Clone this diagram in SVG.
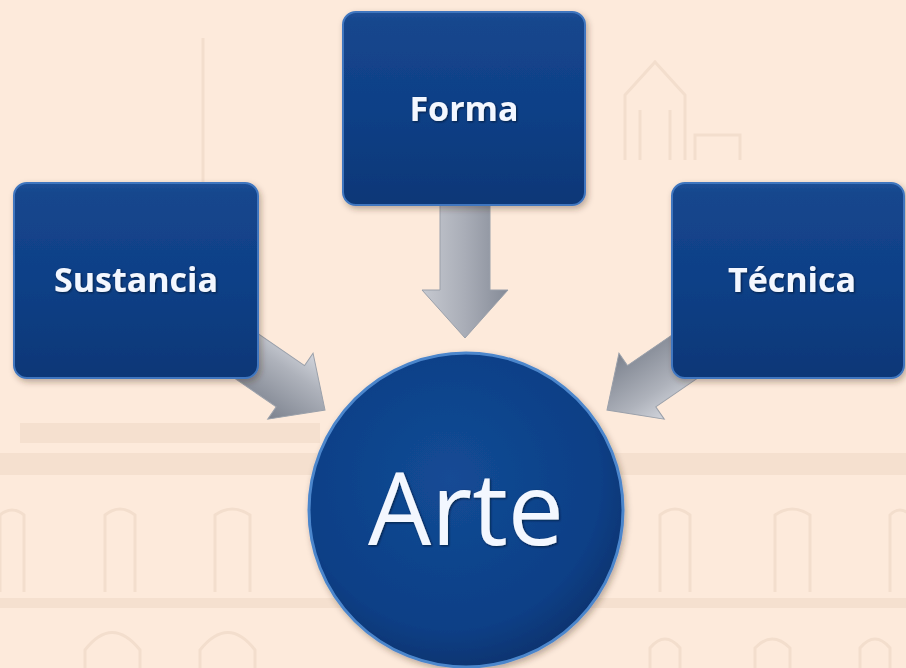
<svg xmlns="http://www.w3.org/2000/svg" width="906" height="668" viewBox="0 0 906 668">
<style>
.wm{fill:none;stroke:#f3decd;stroke-width:3}
.band{fill:#f5e0cf}
.box{fill:url(#boxg);stroke:#3f76bf;stroke-width:2;filter:url(#sh)}
.lbl{font-family:"Open Sans","Noto Sans","Liberation Sans",sans-serif;font-weight:bold;font-size:34px;fill:#f3f7ff;text-anchor:middle;filter:url(#ts)}
.arr{fill:url(#arrg);stroke:#9aa0aa;stroke-width:1}
</style>
<defs>
<linearGradient id="boxg" x1="0" y1="0" x2="0" y2="1">
<stop offset="0" stop-color="#1f5097"/>
<stop offset="0.05" stop-color="#15468d"/>
<stop offset="0.5" stop-color="#0f4087"/>
<stop offset="1" stop-color="#0b3777"/>
</linearGradient>
<linearGradient id="arrg" x1="0" y1="0" x2="0" y2="1">
<stop offset="0" stop-color="#d2d5dc"/>
<stop offset="0.35" stop-color="#aeb2bb"/>
<stop offset="1" stop-color="#7c828e"/>
</linearGradient>
<linearGradient id="arrv" x1="0" y1="0" x2="1" y2="0">
<stop offset="0" stop-color="#c6c9d0"/>
<stop offset="0.5" stop-color="#a9adb7"/>
<stop offset="1" stop-color="#858b97"/>
</linearGradient>
<radialGradient id="circg" cx="0.45" cy="0.4" r="0.6">
<stop offset="0" stop-color="#134b95"/>
<stop offset="0.8" stop-color="#0d3f86"/>
<stop offset="1" stop-color="#0a3572"/>
</radialGradient>
<filter id="sh" x="-10%" y="-10%" width="125%" height="125%">
<feDropShadow dx="2" dy="3" stdDeviation="3" flood-color="#3a2a20" flood-opacity="0.35"/>
</filter>
<filter id="ts" x="-10%" y="-20%" width="120%" height="150%">
<feDropShadow dx="1" dy="1" stdDeviation="1.2" flood-color="#000820" flood-opacity="0.7"/>
</filter>
</defs>
<rect width="906" height="668" fill="#fdeadb"/>
<g id="background">
<line class="wm" x1="203" y1="38" x2="203" y2="182"/>
<path class="wm" d="M625 160 L625 95 L655 62 L685 95 L685 160 M640 160 V110 M670 160 V110 M695 160 V135 H740 V160"/>
<rect class="band" x="20" y="423" width="300" height="20"/>
<rect class="band" x="0" y="453" width="906" height="22"/>
<rect class="band" x="0" y="598" width="906" height="10"/>
<path class="wm" d="M0 592 V515 Q12 505 24 515 V592"/>
<path class="wm" d="M105 592 V515 Q120 503 135 515 V592"/>
<path class="wm" d="M215 592 V515 Q232 503 250 515 V592"/>
<path class="wm" d="M660 592 V515 Q675 503 690 515 V592"/>
<path class="wm" d="M775 592 V515 Q792 503 810 515 V592"/>
<path class="wm" d="M890 592 V515 Q900 505 910 515"/>
<path class="wm" d="M85 668 V650 Q112 615 140 650 V668"/>
<path class="wm" d="M200 668 V650 Q228 615 255 650 V668"/>
<path class="wm" d="M650 668 V648 Q665 630 680 648 V668"/>
<path class="wm" d="M755 668 V648 Q772 630 790 648 V668"/>
<path class="wm" d="M860 668 V648 Q875 630 890 648 V668"/>
</g>
<g id="connectors">
<polygon points="440,200 490,200 490,290 508,290 465,338 422,290 440,290" fill="url(#arrv)" stroke="#9aa0aa" stroke-width="1"/>
<polygon class="arr" transform="translate(325,410) rotate(34.5)" points="-110,-25 -42,-25 -42,-40 0,0 -42,40 -42,25 -110,25"/>
<polygon class="arr" transform="translate(607,410) rotate(145.5)" points="-110,-25 -42,-25 -42,-40 0,0 -42,40 -42,25 -110,25"/>
</g>
<g id="node-forma">
<rect class="box" x="343" y="12" width="242" height="193" rx="13"/>
<text class="lbl" x="464" y="121">Forma</text>
</g>
<g id="node-sustancia">
<rect class="box" x="14" y="183" width="244" height="195" rx="13"/>
<text class="lbl" x="136" y="292">Sustancia</text>
</g>
<g id="node-tecnica">
<rect class="box" x="672" y="183" width="232" height="195" rx="13"/>
<text class="lbl" x="792" y="292">Técnica</text>
</g>
<g id="node-arte">
<circle cx="466" cy="510" r="157" fill="url(#circg)" stroke="#4c86cc" stroke-width="3" filter="url(#sh)"/>
<text x="466" y="545" font-family="'Open Sans','Noto Sans','Liberation Sans',sans-serif" font-size="100" fill="#f3f7ff" text-anchor="middle" filter="url(#ts)">Arte</text>
</g>
</svg>
